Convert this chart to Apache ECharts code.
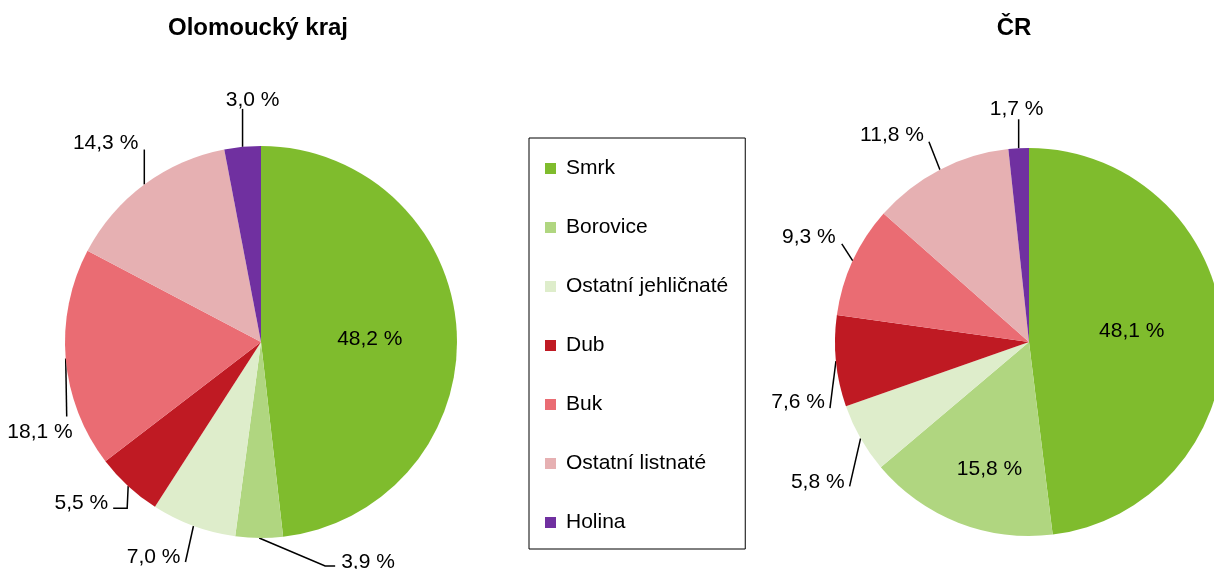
<!DOCTYPE html>
<html>
<head>
<meta charset="utf-8">
<title>Zastoupení dřevin</title>
<script src="https://cdn.jsdelivr.net/npm/echarts@6/dist/echarts.min.js"></script>
<style>
  html, body { margin: 0; padding: 0; background: #fff; }
  #chart { width: 1214px; height: 569px; }
</style>
</head>
<body>
<div id="chart"></div>
<script>
// dřeviny, pořadí od 12 hodin po směru hodin
const categories = ['Smrk', 'Borovice', 'Ostatní jehličnaté', 'Dub', 'Buk', 'Ostatní listnaté', 'Holina']
const olomouckyValues = [48.2, 3.9, 7.0, 5.5, 18.1, 14.3, 3.0]
const crValues = [48.1, 15.8, 5.8, 7.6, 9.3, 11.8, 1.7]
const titles = ['Olomoucký kraj', 'ČR']

const colors = ['#7FBC2D', '#B0D680', '#DEEDCB', '#BF1A23', '#EA6C73', '#E6B0B2', '#7030A0']
const font = "'Liberation Sans', Arial, sans-serif"

// umístění popisků (excelový vzhled): inside = posun popisku uvnitř výseče,
// jinak lomená čára od okraje výseče + posun textu od konce čáry
const olomouckyLabels = [
  { inside: true, shift: [8, 3] },
  { elbow: [66, 28], tail: 10, text: [6, -4], align: 'left' },
  { elbow: [-8, 36], tail: 0, text: [-5, -5], align: 'right' },
  { elbow: [-1, 22], tail: -14, text: [-5, -5], align: 'right' },
  { elbow: [1, 58], tail: 0, text: [6, 16], align: 'right' },
  { elbow: [0, -35], tail: 0, text: [-6, -6], align: 'right' },
  { elbow: [0, -38], tail: 0, text: [10, -9], align: 'center' }
]
const crLabels = [
  { inside: true, shift: [3, -5] },
  { inside: true, shift: [-3, 34] },
  { elbow: [-11, 48], tail: 0, text: [-5, -4], align: 'right' },
  { elbow: [-6, 47], tail: 0, text: [-5, -6], align: 'right' },
  { elbow: [-11, -17], tail: 0, text: [-6, -7], align: 'right' },
  { elbow: [-11, -28], tail: 0, text: [-5, -6], align: 'right' },
  { elbow: [0, -29], tail: 0, text: [-2, -10], align: 'center' }
]

const fmt = (v) => v.toFixed(1).replace('.', ',') + ' %'

const makeLabelLayout = (placement) => (params) => {
  const p = placement[params.dataIndex]
  if (!p) return {}
  const r = params.labelRect
  if (p.inside) {
    return {
      x: r.x + r.width / 2 + p.shift[0],
      y: r.y + r.height / 2 + p.shift[1],
      align: 'center',
      verticalAlign: 'middle'
    }
  }
  const a = params.labelLinePoints[0]
  const e = [a[0] + p.elbow[0], a[1] + p.elbow[1]]
  const end = [e[0] + p.tail, e[1]]
  return {
    x: end[0] + p.text[0],
    y: end[1] + p.text[1],
    align: p.align,
    verticalAlign: 'middle',
    labelLinePoints: [a, e, end]
  }
}

const buildData = (values, placement) => values.map((v, i) => {
  const inside = placement[i] && placement[i].inside
  return {
    name: categories[i],
    value: v,
    itemStyle: { color: colors[i] },
    label: { position: inside ? 'inside' : 'outside' },
    labelLine: { show: !inside }
  }
})

const pieSeries = (name, values, placement, center, radius) => ({
  name: name,
  type: 'pie',
  center: center,
  radius: radius,
  startAngle: 90,
  clockwise: true,
  avoidLabelOverlap: false,
  data: buildData(values, placement),
  label: {
    color: '#000',
    fontSize: 21,
    fontFamily: font,
    formatter: (p) => fmt(p.value)
  },
  labelLine: {
    length: 15,
    length2: 0,
    lineStyle: { color: '#000', width: 1.5 }
  },
  labelLayout: makeLabelLayout(placement),
  emphasis: { disabled: true }
})

const chart = echarts.init(document.getElementById('chart'))

chart.setOption({
  animation: false,
  backgroundColor: '#fff',
  title: [
    {
      text: titles[0], left: 258, top: 16, padding: 0, textAlign: 'center',
      textStyle: { fontSize: 24, fontWeight: 'bold', color: '#000', fontFamily: font }
    },
    {
      text: titles[1], left: 1014, top: 16, padding: 0, textAlign: 'center',
      textStyle: { fontSize: 24, fontWeight: 'bold', color: '#000', fontFamily: font }
    }
  ],
  legend: {
    data: categories,
    orient: 'vertical',
    left: 529,
    top: 138,
    padding: [20, 17, 16, 16],
    itemGap: 38,
    itemWidth: 11,
    itemHeight: 11,
    icon: 'rect',
    borderColor: '#000',
    borderWidth: 1,
    selectedMode: false,
    textStyle: { fontSize: 21, color: '#000', fontFamily: font, padding: [0, 0, 0, 5] }
  },
  series: [
    pieSeries(titles[0], olomouckyValues, olomouckyLabels, [261, 342], 196),
    pieSeries(titles[1], crValues, crLabels, [1029, 342], 194)
  ]
})

window.addEventListener('resize', () => {
  chart.resize()
})
</script>
</body>
</html>
